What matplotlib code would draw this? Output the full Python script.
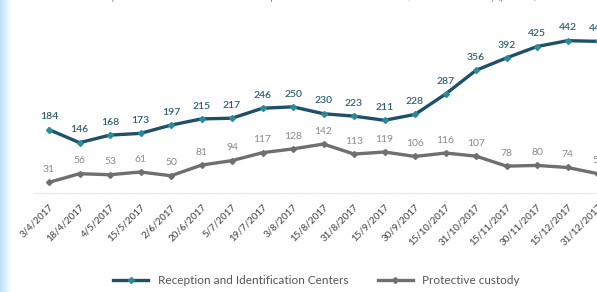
import numpy as np
import matplotlib
matplotlib.use("Agg")
import matplotlib.pyplot as plt

plt.rcParams['font.family'] = ['Lato', 'DejaVu Sans']

# data
dates = ["3/4/2017", "18/4/2017", "4/5/2017", "15/5/2017", "2/6/2017", "20/6/2017",
         "5/7/2017", "19/7/2017", "3/8/2017", "15/8/2017", "31/8/2017", "15/9/2017",
         "30/9/2017", "15/10/2017", "31/10/2017", "15/11/2017", "30/11/2017",
         "15/12/2017", "31/12/2017"]
reception = [184, 146, 168, 173, 197, 215, 217, 246, 250, 230, 223, 211, 228,
             287, 356, 392, 425, 442, 440]
custody = [31, 56, 53, 61, 50, 81, 94, 117, 128, 142, 113, 119, 106, 116, 107,
           78, 80, 74, 56]

blue = "#1f5069"
teal = "#2a8c98"
grey = "#6f6f6f"

fig = plt.figure(figsize=(5.97, 2.92), dpi=100)

# light blue band on the left edge
band = fig.add_axes([0, 0, 12 / 597, 1])
band.imshow(np.linspace(0, 1, 50).reshape(1, -1),
            cmap=matplotlib.colors.LinearSegmentedColormap.from_list("b", ["#bfe0f5", "#ffffff"]),
            aspect="auto", extent=[0, 1, 0, 1])
band.axis("off")

ax = fig.add_axes([33.75 / 597, 99 / 292, 579.5 / 597, 193 / 292])
x = np.arange(len(dates))

ax.plot(x, reception, color=blue, lw=2.4, marker="D", ms=3, mfc=teal, mec=teal,
        label="Reception and Identification Centers")
ax.plot(x, custody, color=grey, lw=2.4, marker="D", ms=3, mfc=grey, mec=grey,
        label="Protective custody")

for i, v in enumerate(reception):
    ax.annotate(str(v), (i, v), xytext=(0, 6), textcoords="offset points",
                ha="center", va="bottom", fontsize=7.5, color="#2f5f73", fontweight="semibold")
for i, v in enumerate(custody):
    ax.annotate(str(v), (i, v), xytext=(0, 6), textcoords="offset points",
                ha="center", va="bottom", fontsize=7.5, color="#8a8a8a")

ax.set_xlim(-0.5, 18.5)
ax.set_ylim(0, 560)
ax.set_xticks(x)
ax.set_xticklabels(dates, rotation=45, ha="right", rotation_mode="anchor",
                   fontsize=7, color="#555555", fontweight="semibold")
ax.tick_params(axis="x", length=0, pad=7)
ax.set_yticks([])
for s in ["top", "right", "left"]:
    ax.spines[s].set_visible(False)
ax.spines["bottom"].set_color("#e0e0e0")
ax.spines["bottom"].set_linestyle(":")
ax.patch.set_alpha(0)

fig.legend(loc="center", bbox_to_anchor=(0.53, 0.04), ncol=2, frameon=False,
           fontsize=8.5, handlelength=3, columnspacing=2.5, labelcolor="#555555")

fig.text(0.53, 1.01, "3 April 2017 \u2013 31 December 2017: Reception and Identification Centers / Protective custody (persons)",
         ha="center", va="center", fontsize=7, color="#888888")

fig.savefig("out.png", dpi=100)
